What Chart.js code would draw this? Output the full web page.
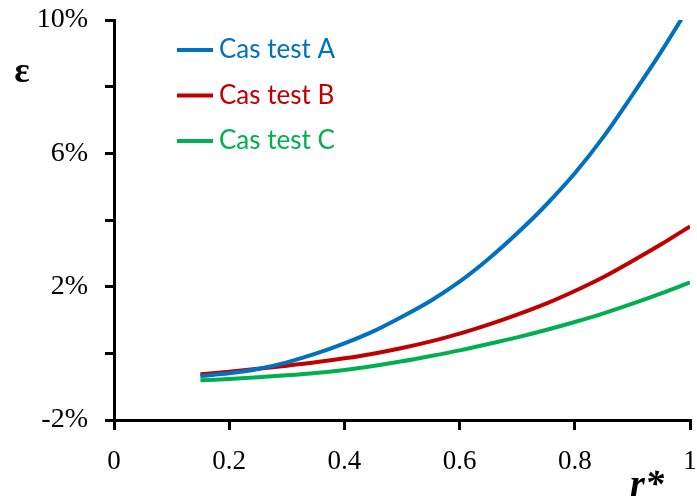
<!DOCTYPE html>
<html>
<head>
<meta charset="utf-8">
<script src="https://cdn.jsdelivr.net/npm/chart.js@4.4.1/dist/chart.umd.min.js"></script>
<style>
  html, body { margin: 0; padding: 0; background: #fff; }
  #wrap { width: 697px; height: 497px; }
</style>
</head>
<body>
<div id="wrap"><canvas id="graficoEps"></canvas></div>
<script>
// r* values where the error was computed
var rEtoile = [0.15, 0.2, 0.25, 0.3, 0.35, 0.4, 0.45, 0.5, 0.55, 0.6, 0.65, 0.7, 0.75, 0.8, 0.85, 0.9, 0.95, 1.0];

// relative error in %, one array per test case
var casA = [-0.68, -0.6, -0.47, -0.27, -0.01, 0.3, 0.66, 1.1, 1.58, 2.15, 2.83, 3.6, 4.45, 5.4, 6.5, 7.75, 9.05, 10.45];
var casB = [-0.63, -0.55, -0.46, -0.37, -0.27, -0.15, -0.01, 0.16, 0.36, 0.59, 0.86, 1.16, 1.49, 1.87, 2.29, 2.77, 3.27, 3.81];
var casC = [-0.81, -0.77, -0.72, -0.66, -0.59, -0.5, -0.38, -0.24, -0.08, 0.09, 0.28, 0.48, 0.7, 0.94, 1.2, 1.49, 1.8, 2.13];

var nomsCas = ["Cas test A", "Cas test B", "Cas test C"];
var coresCas = ["#0070C0", "#C00000", "#00B050"];

// y ticks every 2 %, only every other one gets a label
var rotulosY = [-2, 2, 6, 10];

function PegarPontos(valores) {
    return rEtoile.map(function (r, i) { return { x: r, y: valores[i] }; });
}

// legend and axis symbols drawn by hand
var legendaManual = {
    id: 'legendaManual',
    afterDraw: function (chart) {
        var ctx = chart.ctx;
        var area = chart.chartArea;
        ctx.save();
        chart.data.datasets.forEach(function (ds, i) {
            var y = area.top + 30 + i * 45.5;
            ctx.strokeStyle = ds.borderColor;
            ctx.lineWidth = 4;
            ctx.beginPath();
            ctx.moveTo(area.left + 63, y);
            ctx.lineTo(area.left + 99, y);
            ctx.stroke();
            ctx.fillStyle = ds.borderColor;
            ctx.font = '26px Lato';
            ctx.textBaseline = 'middle';
            ctx.textAlign = 'left';
            ctx.fillText(ds.label, area.left + 105, y);
        });
        ctx.fillStyle = '#000';
        ctx.font = 'bold 36px "Liberation Serif"';
        ctx.textAlign = 'center';
        ctx.textBaseline = 'middle';
        ctx.fillText('\u03B5', 22, 73);
        ctx.font = 'bold italic 38px "Liberation Serif"';
        ctx.textBaseline = 'alphabetic';
        ctx.fillText('r*', 647, 496);
        ctx.restore();
    }
};

var ctx = document.getElementById('graficoEps').getContext('2d');

var grafico = new Chart(ctx, {
    type: 'line',
    data: {
        datasets: [
            { label: nomsCas[0], data: PegarPontos(casA), borderColor: coresCas[0] },
            { label: nomsCas[1], data: PegarPontos(casB), borderColor: coresCas[1] },
            { label: nomsCas[2], data: PegarPontos(casC), borderColor: coresCas[2] }
        ]
    },
    options: {
        responsive: true,
        maintainAspectRatio: false,
        animation: false,
        layout: { padding: { left: 0, right: 7, top: 20, bottom: 0 } },
        elements: {
            point: { radius: 0 },
            line: { borderWidth: 4, cubicInterpolationMode: 'monotone', fill: false }
        },
        plugins: {
            legend: { display: false },
            tooltip: { enabled: false }
        },
        scales: {
            x: {
                type: 'linear',
                min: 0,
                max: 1,
                afterFit: function (scale) {
                    scale.height = 77;
                    scale.paddingLeft = 0;
                    scale.paddingRight = 0;
                },
                border: { display: true, color: '#000', width: 3 },
                grid: { drawOnChartArea: false, drawTicks: true, tickLength: 10, tickColor: '#000', lineWidth: 3 },
                ticks: {
                    stepSize: 0.2,
                    color: '#000',
                    padding: 16,
                    maxRotation: 0,
                    font: { family: '"Liberation Serif"', size: 27 },
                    callback: function (v) { return Math.round(v * 10) / 10; }
                }
            },
            y: {
                min: -2,
                max: 10,
                afterFit: function (scale) {
                    scale.width = 114;
                    scale.paddingTop = 0;
                    scale.paddingBottom = 0;
                },
                border: { display: true, color: '#000', width: 3 },
                grid: { drawOnChartArea: false, drawTicks: true, tickLength: 9, tickColor: '#000', lineWidth: 3 },
                ticks: {
                    stepSize: 2,
                    color: '#000',
                    padding: 17,
                    font: { family: '"Liberation Serif"', size: 28 },
                    callback: function (v) { return rotulosY.indexOf(v) >= 0 ? v + '%' : ''; }
                }
            }
        }
    },
    plugins: [legendaManual]
});
</script>
</body>
</html>
